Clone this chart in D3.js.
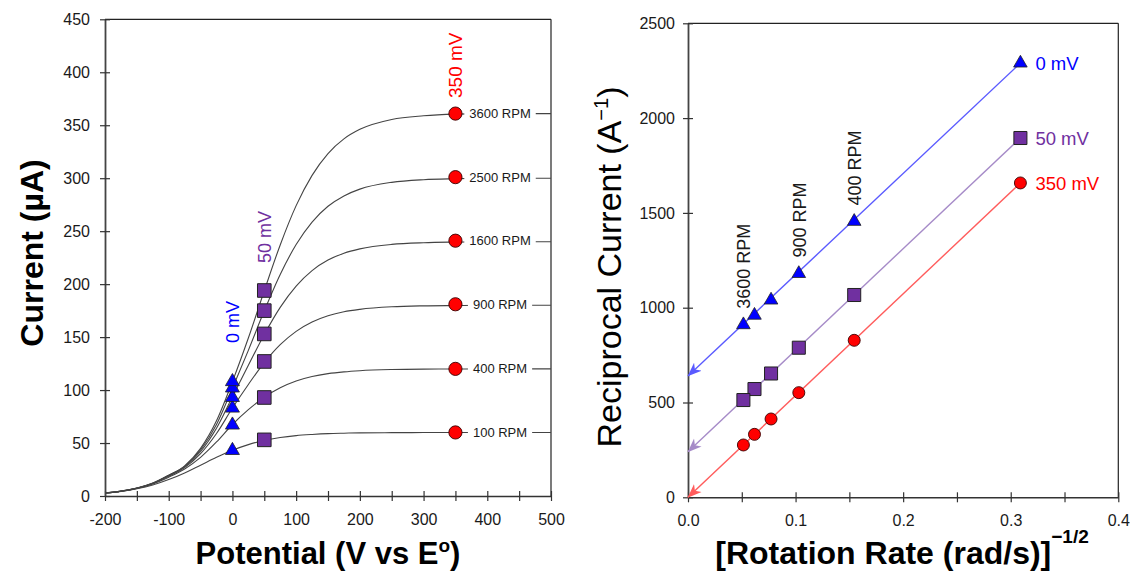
<!DOCTYPE html>
<html><head><meta charset="utf-8">
<script src="https://cdn.jsdelivr.net/npm/d3@7"></script>
<style>
body{margin:0;background:#fff;}
svg{display:block;font-family:"Liberation Sans",Arial,sans-serif;}
</style>
</head><body>
<svg id="c" width="1130" height="571"></svg>
<script>
// ---------- DATA ----------
const rpmLabels = ["100 RPM","400 RPM","900 RPM","1600 RPM","2500 RPM","3600 RPM"];
const potentials = [-200,-175,-150,-125,-100,-75,-50,-25,0,25,50,75,100,125,150,175,200,250,300,350,400,450,500];
const curve100  = [2.7,4.3,6.8,10.4,15.5,21.8,29.1,36.5,43.2,48.5,52.5,55.2,57.0,58.1,58.9,59.3,59.6,59.8,59.9,60.0,60.0,60.0,60.0];
const curve400  = [2.8,4.5,7.2,11.4,17.8,25.5,36.5,51.0,67.5,81.5,93.3,102.2,108.6,112.8,115.5,117.2,118.3,119.4,119.8,119.9,120,120,120];
const curve900  = [2.8,4.5,7.4,11.8,18.7,26.8,40.0,59.0,83.0,105.3,125.9,142.8,155.4,164.2,170.1,173.9,176.2,178.6,179.5,179.8,180,180,180];
const curve1600 = [2.8,4.6,7.4,12.0,19.2,27.5,42.0,64.0,93.8,123.4,152.5,178.1,198.2,212.8,222.7,229.2,233.3,237.5,239.1,239.7,240,240,240];
const curve2500 = [2.8,4.6,7.5,12.1,19.5,28.0,43.5,67.5,101.8,137.5,174.8,209.1,237.4,258.6,273.5,283.3,289.7,296.1,298.6,299.5,300,300,300];
const curve3600 = [2.8,4.6,7.5,12.2,19.7,28.5,45.0,71.0,108.0,149.1,193.8,237.0,274.1,302.7,323.3,337.1,346.1,355.4,358.9,360.5,361,361,361];
const markerPotentials = [0, 50, 350];            // mV
const markerLabels = ["0 mV","50 mV","350 mV"];
const current0mV   = [43, 67, 83, 93, 102, 108];  // µA
const current50mV  = [53, 93, 127, 153, 175, 194];
const current350mV = [60, 120, 181, 241, 301, 361];

const rotationInvSqrt = [0.309, 0.1545, 0.103, 0.0772, 0.0618, 0.0515]; // (rad/s)^-1/2 for 100..3600 RPM
const recip0mV   = [2290, 1455, 1180, 1040, 960, 910];
const recip50mV  = [1895, 1067, 789, 653, 571, 513];
const recip350mV = [1658, 828, 552, 413, 332, 276];
const intercepts = [640, 240, 0];
const rightRpmLabels = ["400 RPM","900 RPM","3600 RPM"];

const leftXTicks = d3.range(-200, 501, 50);
const leftYTicks = d3.range(0, 451, 50);
const rightXTicks = d3.range(0, 0.4001, 0.05);
const rightYTicks = d3.range(0, 2501, 500);

// ---------- STYLE ----------
const C_BLUE = "#0000ff", C_PURPLE = "#7030a0", C_RED = "#ff0000";
const L_BLUE = "#5a5aff", L_PURPLE = "#a68bc8", L_RED = "#ff5c5c";
const TXT = "#1a1a1a";

const svg = d3.select("#c");
const xL = d3.scaleLinear().domain([-200,500]).range([105,551]);
const yL = d3.scaleLinear().domain([0,450]).range([496,19.3]);
const xR = d3.scaleLinear().domain([0,0.4]).range([688,1118.3]);
const yR = d3.scaleLinear().domain([0,2500]).range([497.3,23.3]);

function frame(x, y){
  const g = svg.append("g");
  g.append("line").attr("x1",x.range()[0]).attr("x2",x.range()[1]).attr("y1",y.range()[1]).attr("y2",y.range()[1])
    .attr("stroke","#222").attr("stroke-width",1.2);
  g.append("line").attr("x1",x.range()[1]).attr("x2",x.range()[1]).attr("y1",y.range()[0]).attr("y2",y.range()[1])
    .attr("stroke","#222").attr("stroke-width",1.2);
}
function axes(x, y, xt, yt, xfmt, yfmt, yLabelOff){
  const gx = svg.append("g").attr("transform",`translate(0,${y.range()[0]})`)
    .call(d3.axisBottom(x).tickValues(xt).tickFormat(xfmt).tickSizeOuter(0));
  gx.selectAll(".tick line").attr("y1",-5).attr("y2",5).attr("stroke","#333").attr("stroke-width",1.2);
  gx.selectAll(".tick text").attr("y",17.5).attr("font-size",16).attr("font-family","Liberation Sans, Arial, sans-serif").attr("fill",TXT);
  gx.select(".domain").attr("stroke","#333").attr("stroke-width",1.5);
  const gy = svg.append("g").attr("transform",`translate(${x.range()[0]},0)`)
    .call(d3.axisLeft(y).tickValues(yt).tickFormat(yfmt).tickSizeOuter(0));
  gy.selectAll(".tick line").attr("x1",-5).attr("x2",5).attr("stroke","#333").attr("stroke-width",1.2);
  gy.selectAll(".tick text").attr("x",yLabelOff).attr("font-size",16).attr("font-family","Liberation Sans, Arial, sans-serif").attr("fill",TXT);
  gy.select(".domain").attr("stroke","#444").attr("stroke-width",1.8);
}

// ---------- LEFT CHART ----------
frame(xL, yL);
axes(xL, yL, leftXTicks, leftYTicks, d => (d % 100 === 0 ? d : ""), d => d, -15);

const curves = [curve100, curve400, curve900, curve1600, curve2500, curve3600];
const line = d3.line().x((d,i)=>xL(potentials[i])).y(d=>yL(d)).curve(d3.curveMonotoneX);
svg.append("g").selectAll("path").data(curves).join("path")
  .attr("d", line).attr("fill","none").attr("stroke","#444").attr("stroke-width",1.1);

// RPM labels (with white background) on the curves
const labG = svg.append("g");
current350mV.forEach((v,i)=>{
  const g = labG.append("g");
  const t = g.append("text").attr("x", xL(420)).attr("y", yL(v)).attr("dy","0.35em")
    .attr("text-anchor","middle").attr("font-size",13).attr("fill",TXT).text(rpmLabels[i]);
  const b = t.node().getBBox();
  g.insert("rect","text").attr("x",b.x-5).attr("y",b.y).attr("width",b.width+10).attr("height",b.height).attr("fill","#fff");
});

const sym = (type,size)=>d3.symbol().type(type).size(size)();
svg.append("g").selectAll("path").data(current0mV).join("path")
  .attr("transform",d=>`translate(${xL(markerPotentials[0])},${yL(d)})`)
  .attr("d", sym(d3.symbolTriangle, 85)).attr("fill",C_BLUE).attr("stroke","#222").attr("stroke-width",0.8);
svg.append("g").selectAll("path").data(current50mV).join("path")
  .attr("transform",d=>`translate(${xL(markerPotentials[1])},${yL(d)})`)
  .attr("d", sym(d3.symbolSquare, 185)).attr("fill",C_PURPLE).attr("stroke","#222").attr("stroke-width",1);
svg.append("g").selectAll("circle").data(current350mV).join("circle")
  .attr("cx", xL(markerPotentials[2])).attr("cy",d=>yL(d)).attr("r",6.6)
  .attr("fill",C_RED).attr("stroke","#3a0000").attr("stroke-width",0.9);

// rotated mV labels
const rotLab = (x,y,txt,col,fs)=>svg.append("text").attr("transform",`translate(${x},${y}) rotate(-90)`)
  .attr("font-size",fs).attr("fill",col).text(txt);
rotLab(xL(0)+6.5, yL(144.4), markerLabels[0], C_BLUE, 18);
rotLab(xL(50)+6.5, yL(220), markerLabels[1], C_PURPLE, 18);
rotLab(xL(350)+7, yL(375.7), markerLabels[2], C_RED, 19);

// axis titles (left)
svg.append("text").attr("transform",`translate(43,253) rotate(-90)`).attr("text-anchor","middle")
  .attr("font-size",32).attr("font-weight","bold").attr("fill","#000").text("Current (µA)");
const t2 = svg.append("text").attr("x",328).attr("y",564).attr("text-anchor","middle")
  .attr("font-size",31).attr("font-weight","bold").attr("fill","#000");
t2.append("tspan").text("Potential (V vs E");
t2.append("tspan").attr("font-size",19).attr("dy",-12).text("o");
t2.append("tspan").attr("dy",12).text(")");

// ---------- RIGHT CHART ----------
frame(xR, yR);
axes(xR, yR, rightXTicks, rightYTicks, d => (Math.round(d*100) % 10 === 0 ? d3.format(".1f")(d) : ""), d => d, -13);

const defs = svg.append("defs");
const series = [
  {vals: recip0mV, col: L_BLUE, mcol: C_BLUE, icpt: intercepts[0], lab: markerLabels[0], id:"aB"},
  {vals: recip50mV, col: L_PURPLE, mcol: C_PURPLE, icpt: intercepts[1], lab: markerLabels[1], id:"aP"},
  {vals: recip350mV, col: L_RED, mcol: C_RED, icpt: intercepts[2], lab: markerLabels[2], id:"aR"}
];
series.forEach(s=>{
  defs.append("marker").attr("id",s.id).attr("viewBox","0 -6 14 12").attr("refX",13.5).attr("refY",0)
    .attr("markerWidth",14).attr("markerHeight",12).attr("markerUnits","userSpaceOnUse").attr("orient","auto")
    .append("path").attr("d","M0,-5.5 L14,0 L0,5.5 L4,0 Z").attr("fill",s.col);
});
series.forEach(s=>{
  svg.append("line").attr("x1",xR(rotationInvSqrt[0])).attr("y1",yR(s.vals[0]))
    .attr("x2",xR(0)).attr("y2",yR(s.icpt)).attr("stroke",s.col).attr("stroke-width",1.4)
    .attr("marker-end",`url(#${s.id})`);
});
svg.append("g").selectAll("path").data(recip0mV).join("path")
  .attr("transform",(d,i)=>`translate(${xR(rotationInvSqrt[i])},${yR(d)})`)
  .attr("d", sym(d3.symbolTriangle, 80)).attr("fill",C_BLUE).attr("stroke","#222").attr("stroke-width",0.8);
svg.append("g").selectAll("path").data(recip50mV).join("path")
  .attr("transform",(d,i)=>`translate(${xR(rotationInvSqrt[i])},${yR(d)})`)
  .attr("d", sym(d3.symbolSquare, 170)).attr("fill",C_PURPLE).attr("stroke","#222").attr("stroke-width",1);
svg.append("g").selectAll("circle").data(recip350mV).join("circle")
  .attr("cx",(d,i)=>xR(rotationInvSqrt[i])).attr("cy",d=>yR(d)).attr("r",6)
  .attr("fill",C_RED).attr("stroke","#3a0000").attr("stroke-width",0.9);

series.forEach(s=>{
  svg.append("text").attr("x",xR(rotationInvSqrt[0])+15).attr("y",yR(s.vals[0])+7)
    .attr("font-size",18.5).attr("fill",s.mcol).text(s.lab);
});
// rotated RPM labels above the 0 mV points
[[1,0],[2,1],[5,2]].forEach(([i,k])=>{
  svg.append("text").attr("transform",`translate(${xR(rotationInvSqrt[i])+7},${yR(recip0mV[i])-16}) rotate(-90)`)
    .attr("font-size",18).attr("fill",TXT).text(rightRpmLabels[k]);
});

const t3 = svg.append("text").attr("transform",`translate(621,267) rotate(-90)`).attr("text-anchor","middle")
  .attr("font-size",34).attr("fill","#000");
t3.append("tspan").text("Reciprocal Current (A");
t3.append("tspan").attr("font-size",20).attr("dy",-13).text("−1");
t3.append("tspan").attr("dy",13).text(")");
const t4 = svg.append("text").attr("x",902).attr("y",564).attr("text-anchor","middle")
  .attr("font-size",32).attr("font-weight","bold").attr("fill","#000");
t4.append("tspan").text("[Rotation Rate (rad/s)]");
t4.append("tspan").attr("font-size",19).attr("dy",-21).text("−1/2");
</script>
</body></html>
